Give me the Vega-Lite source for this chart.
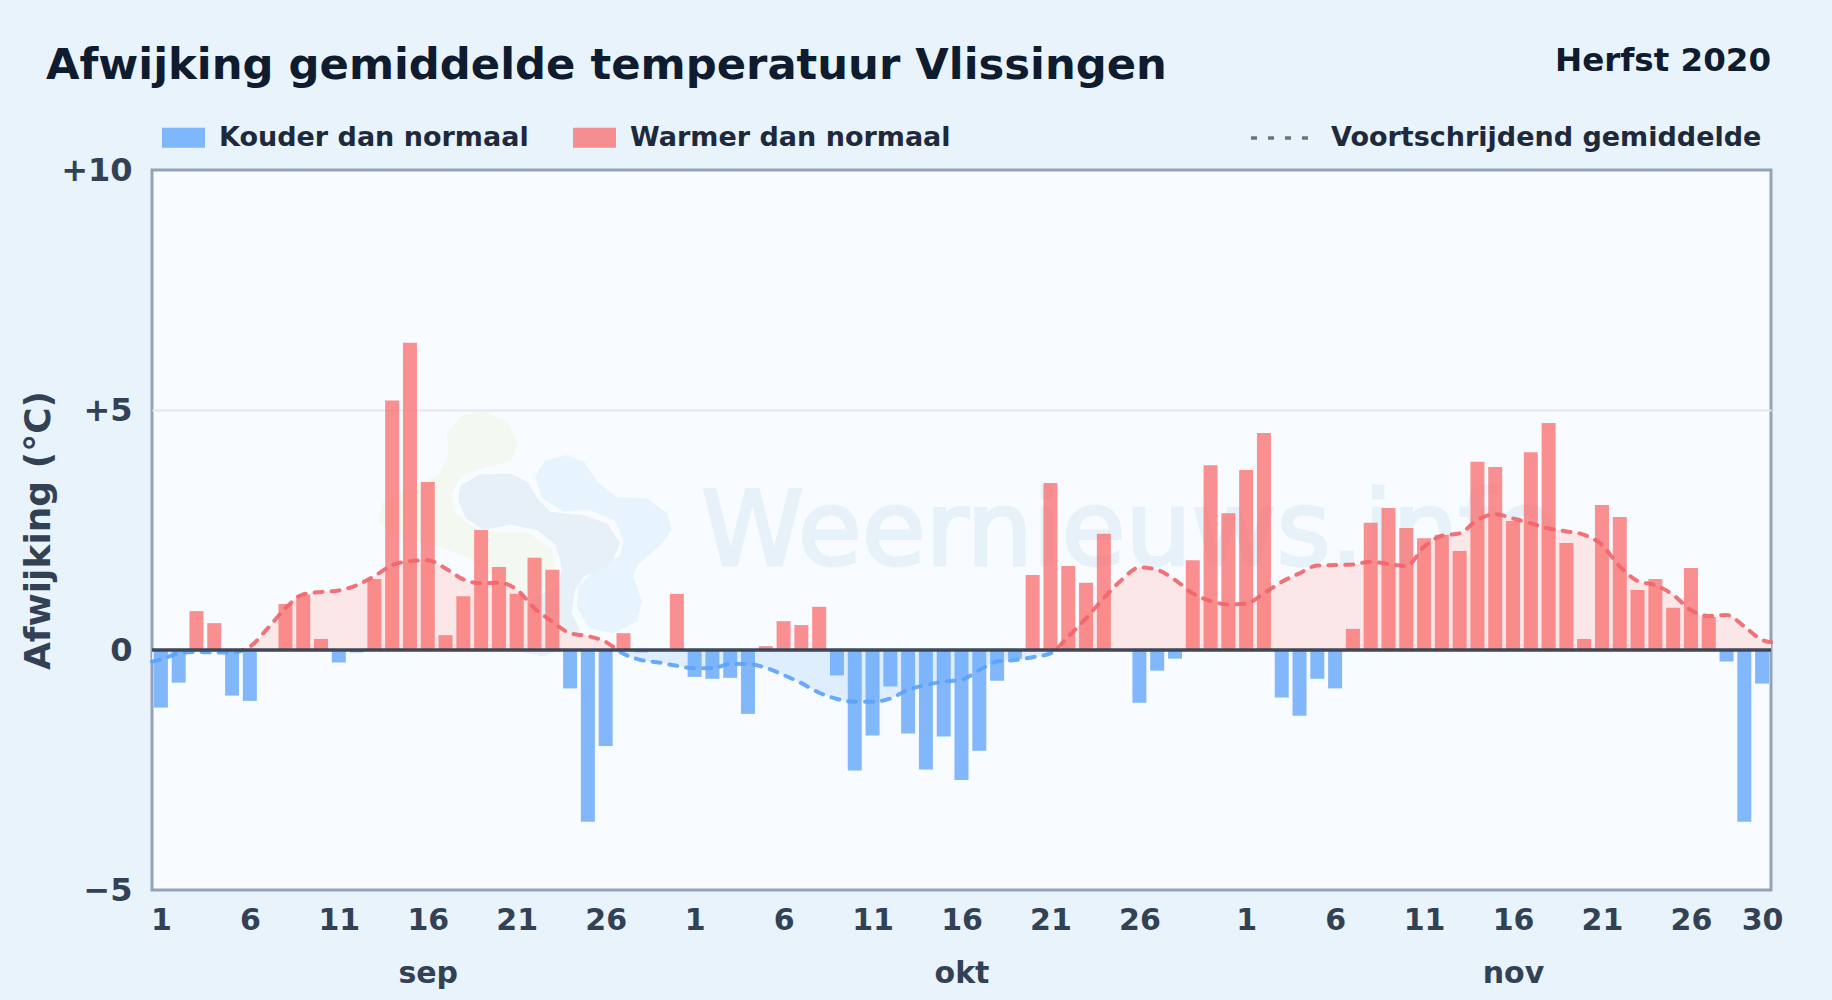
{"$schema":"https://vega.github.io/schema/vega-lite/v6.json",
"width":1619,"height":720,
"autosize":{"type":"none"},
"padding":{"left":152,"top":170,"right":61,"bottom":110},
"background":"#e8f3fc",
"view":{"fill":"#f8fbff","stroke":"#94a3b8","strokeWidth":3},
"config":{"font":"DejaVu Sans"},
"title":{"text":"Afwijking gemiddelde temperatuur Vlissingen","anchor":"start","frame":"group","dx":-106,"dy":107,"offset":29,"baseline":"alphabetic","fontSize":43.3,"fontWeight":"bold","color":"#0f1b2e","font":"DejaVu Sans"},
"datasets":{
"daily":[
{"date":"2020-09-01T00:00:00Z","value":-1.2,"kind":"Kouder dan normaal"},{"date":"2020-09-02T00:00:00Z","value":-0.68,"kind":"Kouder dan normaal"},{"date":"2020-09-03T00:00:00Z","value":0.81,"kind":"Warmer dan normaal"},{"date":"2020-09-04T00:00:00Z","value":0.56,"kind":"Warmer dan normaal"},{"date":"2020-09-05T00:00:00Z","value":-0.95,"kind":"Kouder dan normaal"},{"date":"2020-09-06T00:00:00Z","value":-1.06,"kind":"Kouder dan normaal"},{"date":"2020-09-07T00:00:00Z","value":0,"kind":"Warmer dan normaal"},{"date":"2020-09-08T00:00:00Z","value":0.96,"kind":"Warmer dan normaal"},{"date":"2020-09-09T00:00:00Z","value":1.15,"kind":"Warmer dan normaal"},{"date":"2020-09-10T00:00:00Z","value":0.23,"kind":"Warmer dan normaal"},
{"date":"2020-09-11T00:00:00Z","value":-0.26,"kind":"Kouder dan normaal"},{"date":"2020-09-12T00:00:00Z","value":-0.05,"kind":"Kouder dan normaal"},{"date":"2020-09-13T00:00:00Z","value":1.48,"kind":"Warmer dan normaal"},{"date":"2020-09-14T00:00:00Z","value":5.2,"kind":"Warmer dan normaal"},{"date":"2020-09-15T00:00:00Z","value":6.4,"kind":"Warmer dan normaal"},{"date":"2020-09-16T00:00:00Z","value":3.5,"kind":"Warmer dan normaal"},{"date":"2020-09-17T00:00:00Z","value":0.31,"kind":"Warmer dan normaal"},{"date":"2020-09-18T00:00:00Z","value":1.12,"kind":"Warmer dan normaal"},{"date":"2020-09-19T00:00:00Z","value":2.5,"kind":"Warmer dan normaal"},{"date":"2020-09-20T00:00:00Z","value":1.73,"kind":"Warmer dan normaal"},
{"date":"2020-09-21T00:00:00Z","value":1.17,"kind":"Warmer dan normaal"},{"date":"2020-09-22T00:00:00Z","value":1.92,"kind":"Warmer dan normaal"},{"date":"2020-09-23T00:00:00Z","value":1.67,"kind":"Warmer dan normaal"},{"date":"2020-09-24T00:00:00Z","value":-0.8,"kind":"Kouder dan normaal"},{"date":"2020-09-25T00:00:00Z","value":-3.58,"kind":"Kouder dan normaal"},{"date":"2020-09-26T00:00:00Z","value":-2.0,"kind":"Kouder dan normaal"},{"date":"2020-09-27T00:00:00Z","value":0.35,"kind":"Warmer dan normaal"},{"date":"2020-09-28T00:00:00Z","value":-0.05,"kind":"Kouder dan normaal"},{"date":"2020-09-29T00:00:00Z","value":0,"kind":"Warmer dan normaal"},{"date":"2020-09-30T00:00:00Z","value":1.17,"kind":"Warmer dan normaal"},
{"date":"2020-10-01T00:00:00Z","value":-0.56,"kind":"Kouder dan normaal"},{"date":"2020-10-02T00:00:00Z","value":-0.6,"kind":"Kouder dan normaal"},{"date":"2020-10-03T00:00:00Z","value":-0.58,"kind":"Kouder dan normaal"},{"date":"2020-10-04T00:00:00Z","value":-1.33,"kind":"Kouder dan normaal"},{"date":"2020-10-05T00:00:00Z","value":0.08,"kind":"Warmer dan normaal"},{"date":"2020-10-06T00:00:00Z","value":0.6,"kind":"Warmer dan normaal"},{"date":"2020-10-07T00:00:00Z","value":0.52,"kind":"Warmer dan normaal"},{"date":"2020-10-08T00:00:00Z","value":0.9,"kind":"Warmer dan normaal"},{"date":"2020-10-09T00:00:00Z","value":-0.53,"kind":"Kouder dan normaal"},{"date":"2020-10-10T00:00:00Z","value":-2.51,"kind":"Kouder dan normaal"},
{"date":"2020-10-11T00:00:00Z","value":-1.78,"kind":"Kouder dan normaal"},{"date":"2020-10-12T00:00:00Z","value":-0.76,"kind":"Kouder dan normaal"},{"date":"2020-10-13T00:00:00Z","value":-1.74,"kind":"Kouder dan normaal"},{"date":"2020-10-14T00:00:00Z","value":-2.49,"kind":"Kouder dan normaal"},{"date":"2020-10-15T00:00:00Z","value":-1.8,"kind":"Kouder dan normaal"},{"date":"2020-10-16T00:00:00Z","value":-2.71,"kind":"Kouder dan normaal"},{"date":"2020-10-17T00:00:00Z","value":-2.1,"kind":"Kouder dan normaal"},{"date":"2020-10-18T00:00:00Z","value":-0.64,"kind":"Kouder dan normaal"},{"date":"2020-10-19T00:00:00Z","value":-0.18,"kind":"Kouder dan normaal"},{"date":"2020-10-20T00:00:00Z","value":1.56,"kind":"Warmer dan normaal"},
{"date":"2020-10-21T00:00:00Z","value":3.48,"kind":"Warmer dan normaal"},{"date":"2020-10-22T00:00:00Z","value":1.75,"kind":"Warmer dan normaal"},{"date":"2020-10-23T00:00:00Z","value":1.4,"kind":"Warmer dan normaal"},{"date":"2020-10-24T00:00:00Z","value":2.42,"kind":"Warmer dan normaal"},{"date":"2020-10-25T00:00:00Z","value":0,"kind":"Warmer dan normaal"},{"date":"2020-10-26T00:00:00Z","value":-1.1,"kind":"Kouder dan normaal"},{"date":"2020-10-27T00:00:00Z","value":-0.43,"kind":"Kouder dan normaal"},{"date":"2020-10-28T00:00:00Z","value":-0.18,"kind":"Kouder dan normaal"},{"date":"2020-10-29T00:00:00Z","value":1.87,"kind":"Warmer dan normaal"},{"date":"2020-10-30T00:00:00Z","value":3.85,"kind":"Warmer dan normaal"},{"date":"2020-10-31T00:00:00Z","value":2.85,"kind":"Warmer dan normaal"},
{"date":"2020-11-01T00:00:00Z","value":3.75,"kind":"Warmer dan normaal"},{"date":"2020-11-02T00:00:00Z","value":4.52,"kind":"Warmer dan normaal"},{"date":"2020-11-03T00:00:00Z","value":-0.99,"kind":"Kouder dan normaal"},{"date":"2020-11-04T00:00:00Z","value":-1.37,"kind":"Kouder dan normaal"},{"date":"2020-11-05T00:00:00Z","value":-0.6,"kind":"Kouder dan normaal"},{"date":"2020-11-06T00:00:00Z","value":-0.8,"kind":"Kouder dan normaal"},{"date":"2020-11-07T00:00:00Z","value":0.44,"kind":"Warmer dan normaal"},{"date":"2020-11-08T00:00:00Z","value":2.65,"kind":"Warmer dan normaal"},{"date":"2020-11-09T00:00:00Z","value":2.96,"kind":"Warmer dan normaal"},{"date":"2020-11-10T00:00:00Z","value":2.54,"kind":"Warmer dan normaal"},
{"date":"2020-11-11T00:00:00Z","value":2.33,"kind":"Warmer dan normaal"},{"date":"2020-11-12T00:00:00Z","value":2.4,"kind":"Warmer dan normaal"},{"date":"2020-11-13T00:00:00Z","value":2.06,"kind":"Warmer dan normaal"},{"date":"2020-11-14T00:00:00Z","value":3.92,"kind":"Warmer dan normaal"},{"date":"2020-11-15T00:00:00Z","value":3.81,"kind":"Warmer dan normaal"},{"date":"2020-11-16T00:00:00Z","value":2.69,"kind":"Warmer dan normaal"},{"date":"2020-11-17T00:00:00Z","value":4.12,"kind":"Warmer dan normaal"},{"date":"2020-11-18T00:00:00Z","value":4.73,"kind":"Warmer dan normaal"},{"date":"2020-11-19T00:00:00Z","value":2.23,"kind":"Warmer dan normaal"},{"date":"2020-11-20T00:00:00Z","value":0.23,"kind":"Warmer dan normaal"},
{"date":"2020-11-21T00:00:00Z","value":3.02,"kind":"Warmer dan normaal"},{"date":"2020-11-22T00:00:00Z","value":2.77,"kind":"Warmer dan normaal"},{"date":"2020-11-23T00:00:00Z","value":1.25,"kind":"Warmer dan normaal"},{"date":"2020-11-24T00:00:00Z","value":1.48,"kind":"Warmer dan normaal"},{"date":"2020-11-25T00:00:00Z","value":0.88,"kind":"Warmer dan normaal"},{"date":"2020-11-26T00:00:00Z","value":1.71,"kind":"Warmer dan normaal"},{"date":"2020-11-27T00:00:00Z","value":0.69,"kind":"Warmer dan normaal"},{"date":"2020-11-28T00:00:00Z","value":-0.24,"kind":"Kouder dan normaal"},{"date":"2020-11-29T00:00:00Z","value":-3.58,"kind":"Kouder dan normaal"},{"date":"2020-11-30T00:00:00Z","value":-0.7,"kind":"Kouder dan normaal"}
],
"avg":[
{"date":"2020-08-31T12:00:00Z","avg":-0.24},
{"date":"2020-09-01T00:00:00Z","avg":-0.2},{"date":"2020-09-02T00:00:00Z","avg":-0.07},{"date":"2020-09-03T00:00:00Z","avg":-0.04},{"date":"2020-09-04T00:00:00Z","avg":-0.05},{"date":"2020-09-05T00:00:00Z","avg":-0.05},{"date":"2020-09-06T00:00:00Z","avg":0.07},{"date":"2020-09-07T00:00:00Z","avg":0.45},{"date":"2020-09-08T00:00:00Z","avg":0.87},{"date":"2020-09-09T00:00:00Z","avg":1.16},{"date":"2020-09-10T00:00:00Z","avg":1.21},
{"date":"2020-09-11T00:00:00Z","avg":1.24},{"date":"2020-09-12T00:00:00Z","avg":1.35},{"date":"2020-09-13T00:00:00Z","avg":1.54},{"date":"2020-09-14T00:00:00Z","avg":1.77},{"date":"2020-09-15T00:00:00Z","avg":1.85},{"date":"2020-09-16T00:00:00Z","avg":1.87},{"date":"2020-09-17T00:00:00Z","avg":1.7},{"date":"2020-09-18T00:00:00Z","avg":1.47},{"date":"2020-09-19T00:00:00Z","avg":1.39},{"date":"2020-09-20T00:00:00Z","avg":1.4},
{"date":"2020-09-21T00:00:00Z","avg":1.26},{"date":"2020-09-22T00:00:00Z","avg":0.87},{"date":"2020-09-23T00:00:00Z","avg":0.59},{"date":"2020-09-24T00:00:00Z","avg":0.35},{"date":"2020-09-25T00:00:00Z","avg":0.29},{"date":"2020-09-26T00:00:00Z","avg":0.17},{"date":"2020-09-27T00:00:00Z","avg":-0.08},{"date":"2020-09-28T00:00:00Z","avg":-0.21},{"date":"2020-09-29T00:00:00Z","avg":-0.26},{"date":"2020-09-30T00:00:00Z","avg":-0.33},
{"date":"2020-10-01T00:00:00Z","avg":-0.38},{"date":"2020-10-02T00:00:00Z","avg":-0.38},{"date":"2020-10-03T00:00:00Z","avg":-0.29},{"date":"2020-10-04T00:00:00Z","avg":-0.29},{"date":"2020-10-05T00:00:00Z","avg":-0.37},{"date":"2020-10-06T00:00:00Z","avg":-0.52},{"date":"2020-10-07T00:00:00Z","avg":-0.69},{"date":"2020-10-08T00:00:00Z","avg":-0.89},{"date":"2020-10-09T00:00:00Z","avg":-1.02},{"date":"2020-10-10T00:00:00Z","avg":-1.08},
{"date":"2020-10-11T00:00:00Z","avg":-1.08},{"date":"2020-10-12T00:00:00Z","avg":-1.01},{"date":"2020-10-13T00:00:00Z","avg":-0.83},{"date":"2020-10-14T00:00:00Z","avg":-0.73},{"date":"2020-10-15T00:00:00Z","avg":-0.66},{"date":"2020-10-16T00:00:00Z","avg":-0.62},{"date":"2020-10-17T00:00:00Z","avg":-0.42},{"date":"2020-10-18T00:00:00Z","avg":-0.24},{"date":"2020-10-19T00:00:00Z","avg":-0.21},{"date":"2020-10-20T00:00:00Z","avg":-0.15},
{"date":"2020-10-21T00:00:00Z","avg":-0.07},{"date":"2020-10-22T00:00:00Z","avg":0.28},{"date":"2020-10-23T00:00:00Z","avg":0.66},{"date":"2020-10-24T00:00:00Z","avg":1.08},{"date":"2020-10-25T00:00:00Z","avg":1.46},{"date":"2020-10-26T00:00:00Z","avg":1.72},{"date":"2020-10-27T00:00:00Z","avg":1.67},{"date":"2020-10-28T00:00:00Z","avg":1.46},{"date":"2020-10-29T00:00:00Z","avg":1.18},{"date":"2020-10-30T00:00:00Z","avg":1.02},{"date":"2020-10-31T00:00:00Z","avg":0.95},
{"date":"2020-11-01T00:00:00Z","avg":0.97},{"date":"2020-11-02T00:00:00Z","avg":1.18},{"date":"2020-11-03T00:00:00Z","avg":1.42},{"date":"2020-11-04T00:00:00Z","avg":1.6},{"date":"2020-11-05T00:00:00Z","avg":1.76},{"date":"2020-11-06T00:00:00Z","avg":1.77},{"date":"2020-11-07T00:00:00Z","avg":1.78},{"date":"2020-11-08T00:00:00Z","avg":1.84},{"date":"2020-11-09T00:00:00Z","avg":1.79},{"date":"2020-11-10T00:00:00Z","avg":1.75},
{"date":"2020-11-11T00:00:00Z","avg":2.15},{"date":"2020-11-12T00:00:00Z","avg":2.38},{"date":"2020-11-13T00:00:00Z","avg":2.43},{"date":"2020-11-14T00:00:00Z","avg":2.71},{"date":"2020-11-15T00:00:00Z","avg":2.83},{"date":"2020-11-16T00:00:00Z","avg":2.74},{"date":"2020-11-17T00:00:00Z","avg":2.64},{"date":"2020-11-18T00:00:00Z","avg":2.53},{"date":"2020-11-19T00:00:00Z","avg":2.47},{"date":"2020-11-20T00:00:00Z","avg":2.4},
{"date":"2020-11-21T00:00:00Z","avg":2.19},{"date":"2020-11-22T00:00:00Z","avg":1.74},{"date":"2020-11-23T00:00:00Z","avg":1.44},{"date":"2020-11-24T00:00:00Z","avg":1.35},{"date":"2020-11-25T00:00:00Z","avg":1.15},{"date":"2020-11-26T00:00:00Z","avg":0.83},{"date":"2020-11-27T00:00:00Z","avg":0.71},{"date":"2020-11-28T00:00:00Z","avg":0.73},{"date":"2020-11-29T00:00:00Z","avg":0.49},{"date":"2020-11-30T00:00:00Z","avg":0.21},
{"date":"2020-11-30T12:00:00Z","avg":0.16}
],
"series":[{"date":"2020-09-01T00:00:00Z","avg":-0.2,"series":"Voortschrijdend gemiddelde"}],
"logo":[{"date":"2020-09-22T02:53:00Z","y":2.43}],
"wm":[{"date":"2020-10-01T08:36:00Z","y":1.77,"label":"Weernieuws.info"}],
"period":[{"date":"2020-11-30T12:00:00Z","y":12.28,"label":"Herfst 2020"}]
},
"resolve":{"axis":{"x":"independent","y":"shared"},"legend":{"color":"independent","strokeDash":"independent"}},
"layer":[
{"data":{"name":"logo"},"mark":{"type":"point","filled":true,"opacity":1,"size":111111,"color":"#f3f9f1","stroke":"#f3f9f1","strokeWidth":3,"strokeJoin":"round","shape":"M-.53,-.6L-.44,-.7L-.32,-.72L-.18,-.66L-.12,-.54L-.16,-.44L-.32,-.4L-.46,-.35L-.52,-.24L-.5,-.12L-.4,-.04L-.26,0L-.06,0L.08,.1L.11,.24L.06,.32L-.1,.36L-.2,.32L-.4,.14L-.62,.06L-.88,0L-.94,-.08L-.92,-.18L-.74,-.26L-.58,-.35L-.52,-.48Z"},
 "encoding":{"x":{"field":"date","type":"temporal","axis":null,"scale":{"type":"utc","padding":0,"domain":[{"year":2020,"month":8,"date":31,"hours":12,"utc":true},{"year":2020,"month":11,"date":30,"hours":12,"utc":true}]}},"y":{"field":"y","type":"quantitative","scale":{"domain":[-5,10],"nice":false}}}},
{"data":{"name":"logo"},"mark":{"type":"point","filled":true,"opacity":1,"size":111111,"color":"#e8f4fd","stroke":"#e8f4fd","strokeWidth":3,"strokeJoin":"round","shape":"M0,-.34L.06,-.43L.18,-.46L.28,-.42L.36,-.3L.48,-.21L.66,-.2L.78,-.11L.8,-.02L.74,.06L.6,.18L.57,.26L.62,.4L.6,.52L.46,.59L.32,.56L.25,.44L.26,.32L.36,.22L.51,.14L.53,.04L.48,-.08L.32,-.15L.16,-.14L.04,-.22Z"},
 "encoding":{"x":{"field":"date","type":"temporal","axis":null},"y":{"field":"y","type":"quantitative"}}},
{"data":{"name":"logo"},"mark":{"type":"point","filled":true,"opacity":1,"size":111111,"color":"#e7f0f8","stroke":"#e7f0f8","strokeWidth":3,"strokeJoin":"round","shape":"M-.45,-.28L-.34,-.344L-.16,-.35L-.06,-.3L0,-.2L.08,-.12L.28,-.1L.42,-.05L.49,.06L.44,.18L.28,.25L.22,.34L.2,.48L.25,.58L.18,.67L.04,.73L-.1,.7L-.18,.6L-.17,.48L-.06,.42L.14,.32L.16,.22L.15,.16L.12,.06L0,-.03L-.16,-.06L-.32,-.03L-.42,-.1L-.46,-.2Z"},
 "encoding":{"x":{"field":"date","type":"temporal","axis":null},"y":{"field":"y","type":"quantitative"}}},
{"data":{"name":"wm"},"mark":{"type":"text","align":"left","baseline":"alphabetic","fontSize":104,"font":"DejaVu Sans","color":"#e7f1f9","stroke":"#e7f1f9","strokeWidth":3},
 "encoding":{"x":{"field":"date","type":"temporal","axis":null},"y":{"field":"y","type":"quantitative"},"text":{"field":"label"}}},
{"data":{"name":"avg"},"mark":{"type":"area","interpolate":"monotone","fill":{"gradient":"linear","x1":0,"y1":0,"x2":0,"y2":1,"stops":[{"offset":0,"color":"#fbe6e8"},{"offset":0.7238,"color":"#fbe6e8"},{"offset":0.7238,"color":"#dfeefe"},{"offset":1,"color":"#dfeefe"}]}},
 "encoding":{"x":{"field":"date","type":"temporal","axis":null},"y":{"field":"avg","type":"quantitative"},"y2":{"datum":0}}},
{"data":{"name":"daily"},"mark":{"type":"bar","size":14,"opacity":0.78},
 "encoding":{
  "x":{"field":"date","type":"temporal","scale":{"type":"utc","padding":0},"axis":{"orient":"bottom","title":null,"domain":false,"ticks":false,"grid":false,"labelFlush":false,"labelOverlap":false,"labelBound":false,"labelFontSize":30,"labelFontWeight":"bold","labelColor":"#334155","labelFont":"DejaVu Sans","labelPadding":15,"labelExpr":"utcFormat(datum.value,'%-d')",
   "values":[{"year":2020,"month":9,"date":1,"utc":true},{"year":2020,"month":9,"date":6,"utc":true},{"year":2020,"month":9,"date":11,"utc":true},{"year":2020,"month":9,"date":16,"utc":true},{"year":2020,"month":9,"date":21,"utc":true},{"year":2020,"month":9,"date":26,"utc":true},{"year":2020,"month":10,"date":1,"utc":true},{"year":2020,"month":10,"date":6,"utc":true},{"year":2020,"month":10,"date":11,"utc":true},{"year":2020,"month":10,"date":16,"utc":true},{"year":2020,"month":10,"date":21,"utc":true},{"year":2020,"month":10,"date":26,"utc":true},{"year":2020,"month":11,"date":1,"utc":true},{"year":2020,"month":11,"date":6,"utc":true},{"year":2020,"month":11,"date":11,"utc":true},{"year":2020,"month":11,"date":16,"utc":true},{"year":2020,"month":11,"date":21,"utc":true},{"year":2020,"month":11,"date":26,"utc":true},{"year":2020,"month":11,"date":30,"utc":true}]}},
  "y":{"field":"value","type":"quantitative","stack":null,"scale":{"domain":[-5,10],"nice":false},"axis":{"title":"Afwijking (°C)","values":[-5,0,5,10],"domain":false,"ticks":false,"grid":true,"gridColor":{"condition":{"test":"datum.value==5","value":"#e2e8f0"},"value":"transparent"},"gridWidth":2,"labelFontSize":32,"labelFontWeight":"bold","labelColor":"#334155","labelFont":"DejaVu Sans","labelPadding":20,"labelExpr":"datum.value>0?'+'+datum.value:datum.value<0?'−'+abs(datum.value):'0'","titleFontSize":36,"titleFontWeight":"bold","titleColor":"#334155","titleFont":"DejaVu Sans","titlePadding":3.5}},
  "color":{"field":"kind","type":"nominal","scale":{"domain":["Kouder dan normaal","Warmer dan normaal"],"range":["#60a5fa","#f87171"]},
   "legend":{"title":null,"orient":"none","legendX":9,"legendY":-55,"direction":"horizontal","columns":2,"columnPadding":43,"symbolType":"M-1,-.465H1V.465H-1Z","symbolSize":1849,"symbolOpacity":0.78,"labelFontSize":27,"labelFontWeight":"bold","labelColor":"#1e293b","labelFont":"DejaVu Sans","labelOffset":13,"labelLimit":500}}}},
{"data":{"name":"avg"},"mark":{"type":"line","interpolate":"monotone","strokeWidth":4,"strokeCap":"round","strokeDash":[8,9],"opacity":0.9,"stroke":{"gradient":"linear","x1":0,"y1":0,"x2":0,"y2":1,"stops":[{"offset":0,"color":"#f0646a"},{"offset":0.7238,"color":"#f0646a"},{"offset":0.7238,"color":"#5aa2f8"},{"offset":1,"color":"#5aa2f8"}]}},
 "encoding":{
  "x":{"field":"date","type":"temporal","axis":{"orient":"bottom","title":null,"domain":false,"ticks":false,"grid":false,"labelFlush":false,"labelOverlap":false,"labelBound":false,"labelFontSize":30,"labelFontWeight":"bold","labelColor":"#334155","labelFont":"DejaVu Sans","labelPadding":68,"labelExpr":"utcmonth(datum.value)==8?'sep':utcmonth(datum.value)==9?'okt':'nov'",
   "values":[{"year":2020,"month":9,"date":16,"utc":true},{"year":2020,"month":10,"date":16,"utc":true},{"year":2020,"month":11,"date":16,"utc":true}]}},
  "y":{"field":"avg","type":"quantitative"}}},
{"data":{"name":"series"},"mark":{"type":"line","color":"#64748b","strokeWidth":3.5},
 "encoding":{"x":{"field":"date","type":"temporal","axis":null},"y":{"field":"avg","type":"quantitative"},
  "strokeDash":{"field":"series","type":"nominal","scale":{"domain":["Voortschrijdend gemiddelde"],"range":[[6,11]]},
   "legend":{"title":null,"orient":"none","legendX":1097,"legendY":-63,"symbolType":"stroke","symbolSize":3364,"symbolStrokeWidth":3.5,"labelFontSize":27,"labelFontWeight":"bold","labelColor":"#1e293b","labelFont":"DejaVu Sans","labelOffset":20,"labelLimit":600}}}},
{"data":{"values":[{}]},"mark":{"type":"rule","color":"#3d4759","strokeWidth":3.6},"encoding":{"y":{"datum":0,"type":"quantitative"}}},
{"data":{"name":"period"},"mark":{"type":"text","align":"right","baseline":"middle","fontSize":32.5,"fontWeight":"bold","font":"DejaVu Sans","color":"#0f1b2e"},
 "encoding":{"x":{"field":"date","type":"temporal","axis":null},"y":{"field":"y","type":"quantitative"},"text":{"field":"label"}}}
]}
